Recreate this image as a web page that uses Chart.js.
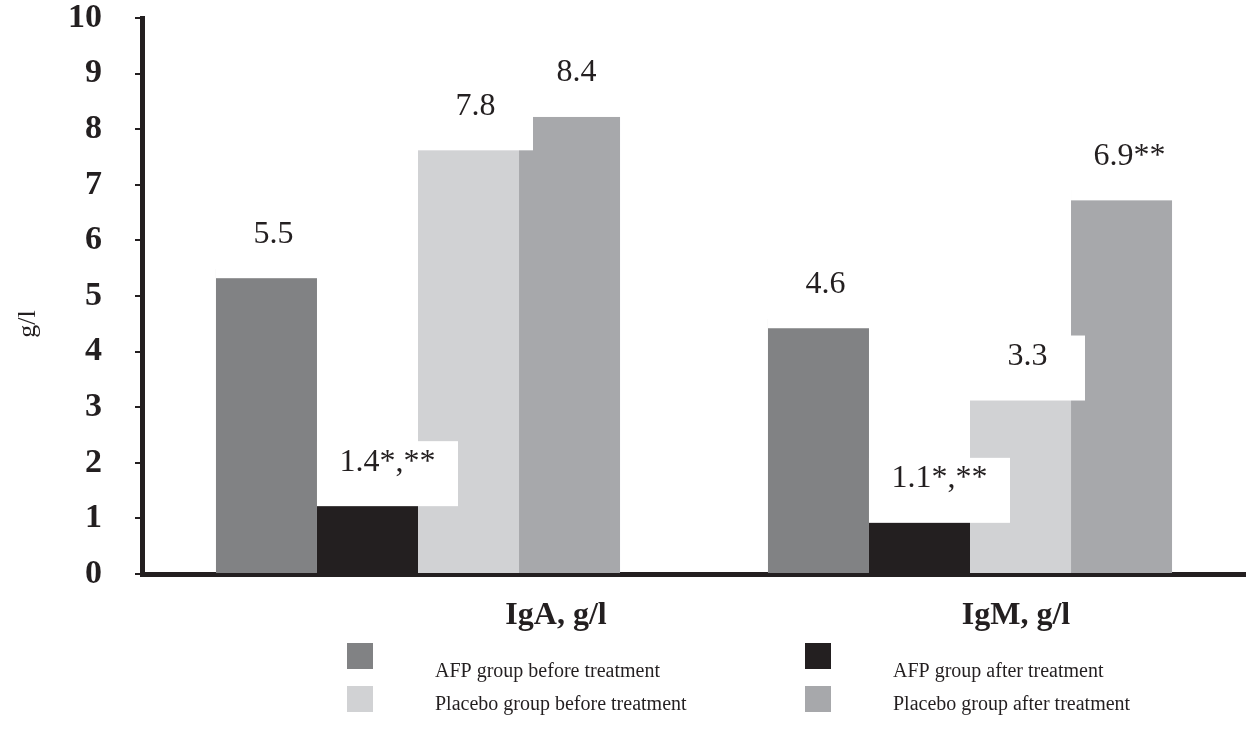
<!DOCTYPE html>
<html>
<head>
<meta charset="utf-8">
<script src="https://cdn.jsdelivr.net/npm/chart.js@4.4.1/dist/chart.umd.min.js"></script>
<style>
  html, body { margin: 0; padding: 0; background: #fff; }
  #wrap { width: 1246px; height: 730px; position: relative; }
</style>
</head>
<body>
<div id="wrap"><canvas id="myChart"></canvas></div>
<script>
// categorias (grupos de barras)
const categories = ['IgA, g/l', 'IgM, g/l'];

// valores de cada serie: [IgA, IgM]
const afpBefore = [5.5, 4.6];
const afpAfter = [1.4, 1.1];
const placeboBefore = [7.8, 3.3];
const placeboAfter = [8.4, 6.9];

// textos de las etiquetas sobre las barras
const afpBeforeLabels = ['5.5', '4.6'];
const afpAfterLabels = ['1.4*,**', '1.1*,**'];
const placeboBeforeLabels = ['7.8', '3.3'];
const placeboAfterLabels = ['8.4', '6.9**'];

const seriesNames = ['AFP group before treatment', 'AFP group after treatment',
                     'Placebo group before treatment', 'Placebo group after treatment'];
const yTicks = [0, 1, 2, 3, 4, 5, 6, 7, 8, 9, 10];

const serif = '"Liberation Serif", "Times New Roman", serif';
const ink = '#231f20';

// the category names sit off-centre under the groups in the original,
// so they go on a finer 12-slot axis
const labelSlots = Array(12).fill('');
labelSlots[4] = categories[0];
labelSlots[9] = categories[1];

const allLabels = [afpBeforeLabels, afpAfterLabels, placeboBeforeLabels, placeboAfterLabels];

// etiquetas con caja blanca encima de las barras
const valueLabels = {
  id: 'valueLabels',
  afterDatasetsDraw(chart) {
    const ctx = chart.ctx;
    ctx.save();
    ctx.font = '32px ' + serif;
    ctx.textAlign = 'center';
    ctx.textBaseline = 'middle';
    chart.data.datasets.forEach((ds, i) => {
      chart.getDatasetMeta(i).data.forEach((bar, j) => {
        const txt = allLabels[i][j];
        const tw = ctx.measureText(txt).width;
        const left = bar.x - bar.width / 2;
        const boxW = Math.max(115, tw + 45);
        const ty = bar.y - 34;
        const top = ty - 21;
        const bottom = bar.y + 10;
        ctx.fillStyle = '#fff';
        ctx.fillRect(left, top, boxW, bottom - top);
        ctx.fillStyle = ink;
        ctx.fillText(txt, left + boxW / 2, ty);
      });
    });
    ctx.restore();
  }
};

// leyenda 2x2 y titulo del eje y
const extras = {
  id: 'extras',
  afterDraw(chart) {
    const ctx = chart.ctx;
    ctx.save();
    const colX = [347, 805];
    const boxY = [643, 686];
    const textY = [677, 710];
    ctx.font = '20px ' + serif;
    ctx.textAlign = 'left';
    ctx.textBaseline = 'alphabetic';
    chart.data.datasets.forEach((ds, i) => {
      const c = i % 2, r = Math.floor(i / 2);
      ctx.fillStyle = ds.backgroundColor;
      ctx.fillRect(colX[c], boxY[r], 26, 26);
      ctx.fillStyle = ink;
      ctx.fillText(ds.label, colX[c] + 88, textY[r]);
    });
    // titulo "g/l"
    ctx.translate(28, 324);
    ctx.rotate(-Math.PI / 2);
    ctx.textAlign = 'center';
    ctx.textBaseline = 'middle';
    ctx.font = '26px ' + serif;
    ctx.fillText('g/l', 0, 0);
    ctx.restore();
  }
};

const data = {
  labels: categories,
  datasets: [
    { label: seriesNames[0], data: afpBefore, backgroundColor: '#818284' },
    { label: seriesNames[1], data: afpAfter, backgroundColor: '#231f20' },
    { label: seriesNames[2], data: placeboBefore, backgroundColor: '#d1d2d4' },
    { label: seriesNames[3], data: placeboAfter, backgroundColor: '#a7a8ab' }
  ]
};
data.datasets.forEach(ds => {
  ds.borderWidth = 0;
  ds.categoryPercentage = 0.732;
  ds.barPercentage = 1;
});

const options = {
  responsive: true,
  maintainAspectRatio: false,
  animation: false,
  layout: { padding: { top: 18, right: 0, bottom: 0, left: 0 } },
  plugins: { legend: { display: false }, tooltip: { enabled: false } },
  scales: {
    x: { display: false },
    xl: {
      type: 'category',
      position: 'bottom',
      labels: labelSlots,
      z: 1,
      grid: { display: false, drawTicks: false },
      border: { display: true, color: ink, width: 5 },
      ticks: {
        autoSkip: false, maxRotation: 0, padding: 26, color: ink,
        font: { family: serif, size: 32, weight: 'bold', lineHeight: 1 }
      },
      afterFit(scale) {
        scale.height = 156;
        scale.paddingLeft = 0;
        scale.paddingRight = 0;
      }
    },
    y: {
      min: 0, max: 10,
      z: 1,
      afterBuildTicks(scale) { scale.ticks = yTicks.map(v => ({ value: v })); },
      grid: { drawOnChartArea: false, drawTicks: true, tickLength: 7, lineWidth: 2, color: ink },
      border: { display: true, color: ink, width: 5 },
      ticks: {
        padding: 33, color: ink,
        font: { family: serif, size: 34, weight: 'bold', lineHeight: 1 }
      },
      afterFit(scale) {
        scale.width = 142;
        scale.paddingTop = 0;
        scale.paddingBottom = 0;
      }
    }
  }
};

const ctx = document.getElementById('myChart').getContext('2d');
const myChart = new Chart(ctx, {
  type: 'bar',
  data: data,
  options: options,
  plugins: [valueLabels, extras]
});
</script>
</body>
</html>
